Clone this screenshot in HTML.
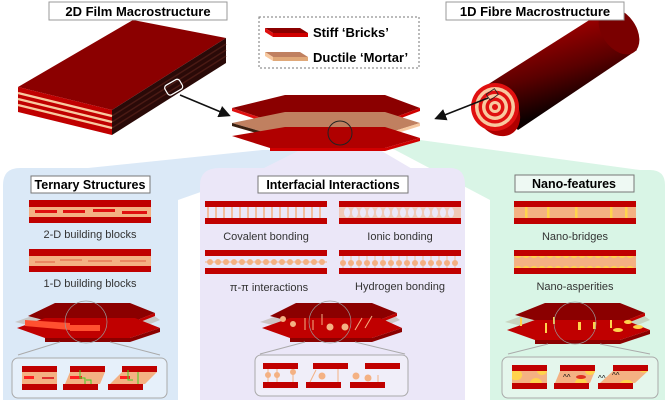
<!DOCTYPE html>
<html><head><meta charset="utf-8"><style>
html,body{margin:0;padding:0;background:#fff;}
svg{display:block;font-family:"Liberation Sans",Arial,sans-serif;}
</style></head><body>
<svg width="669" height="404" viewBox="0 0 669 404" xmlns="http://www.w3.org/2000/svg">
<defs>
<linearGradient id="cyl" x1="0.3" y1="0" x2="0.7" y2="1">
<stop offset="0" stop-color="#c00000"/><stop offset="0.5" stop-color="#5a0000"/><stop offset="0.8" stop-color="#0a0000"/><stop offset="1" stop-color="#300000"/>
</linearGradient>
<marker id="ah" markerWidth="8" markerHeight="8" refX="6" refY="4" orient="auto"><path d="M0,0 L8,4 L0,8 z" fill="#111"/></marker>
</defs>

<!-- beams -->
<polygon points="262,150 320,150 178,200 20,175" fill="#dbe9f7"/>
<polygon points="300,150 380,150 465,200 200,200" fill="#ebe7f8"/>
<polygon points="380,142 420,140 640,170 490,200" fill="#d9f5e6"/>

<!-- panels -->
<path d="M3,185 Q3,168 20,168 L178,168 L178,400 L3,400 Z" fill="#dbe9f7"/>
<path d="M200,185 Q200,168 220,168 L450,168 Q465,168 465,185 L465,400 L200,400 Z" fill="#ebe7f8"/>
<path d="M490,185 Q490,170 505,170 L650,170 Q665,170 665,185 L665,400 L490,400 Z" fill="#d9f5e6"/>

<!-- 2D film -->
<polygon points="18,87 133,20 226,38 112,110" fill="#8b0000"/>
<polygon points="112,110 226,38 226,63 112,135" fill="#2a0a08"/>
<g stroke="#4a1a14" stroke-width="1.5">
<line x1="112" y1="116" x2="226" y2="44"/><line x1="112" y1="122" x2="226" y2="50"/><line x1="112" y1="128" x2="226" y2="56"/></g>
<polygon points="18,87 112,110 112,135 18,112" fill="#c00000"/>
<g stroke="#f8c9a0" stroke-width="2.2">
<line x1="18" y1="93" x2="112" y2="116"/><line x1="18" y1="99" x2="112" y2="122"/><line x1="18" y1="105" x2="112" y2="128"/></g>
<rect x="165" y="82" width="17" height="11" rx="3" fill="none" stroke="#fff" stroke-width="1.2" transform="rotate(-30 173 87)"/>
<line x1="180" y1="95" x2="228" y2="115" stroke="#111" stroke-width="1.5" marker-end="url(#ah)"/>

<!-- center plates -->
<polygon points="232,108 285,95 385,95 420,108 385,121 270,121" fill="#8b0000"/>
<polygon points="232,108 270,121 270,124 232,111" fill="#e01010"/>
<polygon points="270,121 385,121 420,108 420,111 385,124 270,124" fill="#d00000"/>
<polygon points="232,123 285,112 385,112 420,123 385,134 270,134" fill="#c08060"/>
<polygon points="232,123 270,134 270,137 232,126" fill="#3a2010"/>
<polygon points="270,134 385,134 420,123 420,126 385,137 270,137" fill="#f6c8a0"/>
<polygon points="232,136 285,127 385,127 420,138 385,148 270,148" fill="#b00000"/>
<polygon points="270,148 385,148 420,138 420,141 385,151 270,151" fill="#d00000"/>
<circle cx="340" cy="133" r="12" fill="none" stroke="#222" stroke-width="1"/>

<!-- fibre -->
<polygon points="476,92 602,12 637,50 518,130" fill="url(#cyl)"/>
<ellipse cx="619" cy="31" rx="17" ry="26" transform="rotate(-35 619 31)" fill="#7a0000"/>
<ellipse cx="497" cy="111" rx="21" ry="27" transform="rotate(-35 497 111)" fill="#b00000"/>
<circle cx="495" cy="107" r="24" fill="#e01010"/>
<circle cx="495" cy="107" r="20" fill="#f8c9a0"/><circle cx="495" cy="107" r="16.5" fill="#e01010"/>
<circle cx="495" cy="107" r="13" fill="#f8c9a0"/><circle cx="495" cy="107" r="9.5" fill="#e01010"/>
<circle cx="495" cy="107" r="6" fill="#f8c9a0"/><circle cx="495" cy="107" r="3" fill="#e01010"/>
<rect x="487" y="91" width="10" height="7" fill="none" stroke="#222" stroke-width="0.8" transform="rotate(-35 492 94)"/>
<line x1="488" y1="98" x2="437" y2="118" stroke="#111" stroke-width="1.5" marker-end="url(#ah)"/>

<!-- labels -->
<rect x="49" y="2" width="178" height="18" fill="#fff" stroke="#999"/>
<text x="138" y="16" font-size="13" font-weight="bold" text-anchor="middle">2D Film Macrostructure</text>
<rect x="446" y="2" width="178" height="18" fill="#fff" stroke="#999"/>
<text x="535" y="16" font-size="13" font-weight="bold" text-anchor="middle">1D Fibre Macrostructure</text>
<rect x="259" y="17" width="160" height="51" fill="#fff" stroke="#777" stroke-dasharray="2,2"/>
<polygon points="265,28 300,28 308,33 273,33" fill="#8b0000"/><polygon points="265,28 273,33 273,37 265,32" fill="#e01010"/><polygon points="273,33 308,33 308,37 273,37" fill="#d00000"/>
<polygon points="265,52 300,52 308,57 273,57" fill="#c08060"/><polygon points="265,52 273,57 273,61 265,56" fill="#f8c9a0"/><polygon points="273,57 308,57 308,61 273,61" fill="#e0a878"/>
<text x="313" y="37" font-size="13" font-weight="bold">Stiff ‘Bricks’</text>
<text x="313" y="62" font-size="13" font-weight="bold">Ductile ‘Mortar’</text>

<!-- titles -->
<rect x="31" y="176" width="119" height="17" fill="#fff" stroke="#777"/>
<text x="90" y="189" font-size="12.5" font-weight="bold" text-anchor="middle">Ternary Structures</text>
<rect x="258" y="176" width="150" height="17" fill="#fff" stroke="#777"/>
<text x="333" y="189" font-size="12.5" font-weight="bold" text-anchor="middle">Interfacial Interactions</text>
<rect x="515" y="175" width="119" height="17" fill="#eef9f3" stroke="#777"/>
<text x="574" y="188" font-size="12.5" font-weight="bold" text-anchor="middle">Nano-features</text>

<!-- left bars -->
<g>
<rect x="29" y="200" width="122" height="7" fill="#c00000"/><rect x="29" y="207" width="122" height="10" fill="#f4b183"/><rect x="29" y="217" width="122" height="6" fill="#c00000"/>
<g fill="#e01010"><rect x="35" y="210" width="22" height="3"/><rect x="63" y="210" width="22" height="3"/><rect x="93" y="209" width="22" height="3"/><rect x="122" y="211" width="25" height="3"/></g>
<rect x="29" y="249" width="122" height="7" fill="#c00000"/><rect x="29" y="256" width="122" height="10" fill="#f4b183"/><rect x="29" y="266" width="122" height="6" fill="#c00000"/>
<g stroke="#e06040" stroke-width="1"><line x1="35" y1="262" x2="55" y2="262"/><line x1="60" y1="260" x2="82" y2="260"/><line x1="88" y1="261" x2="112" y2="261"/><line x1="120" y1="261" x2="146" y2="261"/></g>
</g>
<text x="90" y="238" font-size="11" fill="#333" text-anchor="middle">2-D building blocks</text>
<text x="90" y="287" font-size="11" fill="#333" text-anchor="middle">1-D building blocks</text>

<!-- purple bars -->
<g>
<rect x="205" y="201" width="122" height="6" fill="#c00000"/><rect x="205" y="218" width="122" height="6" fill="#c00000"/>
<g stroke="#f4b183" stroke-width="1.5">
<line x1="208" y1="207" x2="208" y2="218"/><line x1="216" y1="207" x2="216" y2="218"/><line x1="224" y1="207" x2="224" y2="218"/><line x1="232" y1="207" x2="232" y2="218"/><line x1="240" y1="207" x2="240" y2="218"/><line x1="248" y1="207" x2="248" y2="218"/><line x1="256" y1="207" x2="256" y2="218"/><line x1="264" y1="207" x2="264" y2="218"/><line x1="272" y1="207" x2="272" y2="218"/><line x1="280" y1="207" x2="280" y2="218"/><line x1="288" y1="207" x2="288" y2="218"/><line x1="296" y1="207" x2="296" y2="218"/><line x1="304" y1="207" x2="304" y2="218"/><line x1="312" y1="207" x2="312" y2="218"/><line x1="320" y1="207" x2="320" y2="218"/></g>
<rect x="339" y="201" width="122" height="6" fill="#c00000"/><rect x="339" y="218" width="122" height="6" fill="#c00000"/>
<rect x="339" y="207" width="122" height="11" fill="#f4b183" opacity="0.55"/>
<g fill="#ebe7f8"><ellipse cx="347" cy="212.5" rx="3" ry="5"/><ellipse cx="355" cy="212.5" rx="3" ry="5"/><ellipse cx="363" cy="212.5" rx="3" ry="5"/><ellipse cx="371" cy="212.5" rx="3" ry="5"/><ellipse cx="379" cy="212.5" rx="3" ry="5"/><ellipse cx="387" cy="212.5" rx="3" ry="5"/><ellipse cx="395" cy="212.5" rx="3" ry="5"/><ellipse cx="403" cy="212.5" rx="3" ry="5"/><ellipse cx="411" cy="212.5" rx="3" ry="5"/><ellipse cx="419" cy="212.5" rx="3" ry="5"/><ellipse cx="427" cy="212.5" rx="3" ry="5"/><ellipse cx="435" cy="212.5" rx="3" ry="5"/><ellipse cx="443" cy="212.5" rx="3" ry="5"/><ellipse cx="451" cy="212.5" rx="3" ry="5"/></g>
<rect x="205" y="250" width="122" height="6" fill="#c00000"/><rect x="205" y="268" width="122" height="6" fill="#c00000"/>
<line x1="205" y1="262" x2="327" y2="262" stroke="#f4b183" stroke-width="1"/>
<g fill="#f4b183"><circle cx="210" cy="262" r="3"/><circle cx="218" cy="262" r="3"/><circle cx="226" cy="262" r="3"/><circle cx="234" cy="262" r="3"/><circle cx="242" cy="262" r="3"/><circle cx="250" cy="262" r="3"/><circle cx="258" cy="262" r="3"/><circle cx="266" cy="262" r="3"/><circle cx="274" cy="262" r="3"/><circle cx="282" cy="262" r="3"/><circle cx="290" cy="262" r="3"/><circle cx="298" cy="262" r="3"/><circle cx="306" cy="262" r="3"/><circle cx="314" cy="262" r="3"/><circle cx="322" cy="262" r="3"/></g>
<rect x="339" y="250" width="122" height="6" fill="#c00000"/><rect x="339" y="268" width="122" height="6" fill="#c00000"/>
<g stroke="#f4b183" stroke-width="0.8"><line x1="343" y1="256" x2="343" y2="268"/><line x1="351" y1="256" x2="351" y2="268"/><line x1="359" y1="256" x2="359" y2="268"/><line x1="367" y1="256" x2="367" y2="268"/><line x1="375" y1="256" x2="375" y2="268"/><line x1="383" y1="256" x2="383" y2="268"/><line x1="391" y1="256" x2="391" y2="268"/><line x1="399" y1="256" x2="399" y2="268"/><line x1="407" y1="256" x2="407" y2="268"/><line x1="415" y1="256" x2="415" y2="268"/><line x1="423" y1="256" x2="423" y2="268"/><line x1="431" y1="256" x2="431" y2="268"/><line x1="439" y1="256" x2="439" y2="268"/><line x1="447" y1="256" x2="447" y2="268"/><line x1="455" y1="256" x2="455" y2="268"/></g>
<g fill="#f4b183"><circle cx="343" cy="263" r="3"/><circle cx="351" cy="263" r="3"/><circle cx="359" cy="263" r="3"/><circle cx="367" cy="263" r="3"/><circle cx="375" cy="263" r="3"/><circle cx="383" cy="263" r="3"/><circle cx="391" cy="263" r="3"/><circle cx="399" cy="263" r="3"/><circle cx="407" cy="263" r="3"/><circle cx="415" cy="263" r="3"/><circle cx="423" cy="263" r="3"/><circle cx="431" cy="263" r="3"/><circle cx="439" cy="263" r="3"/><circle cx="447" cy="263" r="3"/><circle cx="455" cy="263" r="3"/></g>
</g>
<text x="266" y="240" font-size="11" fill="#333" text-anchor="middle">Covalent bonding</text>
<text x="400" y="240" font-size="11" fill="#333" text-anchor="middle">Ionic bonding</text>
<text x="269" y="291" font-size="11" fill="#333" text-anchor="middle">π-π interactions</text>
<text x="400" y="290" font-size="11" fill="#333" text-anchor="middle">Hydrogen bonding</text>

<!-- green bars -->
<rect x="514" y="201" width="122" height="6" fill="#c00000"/><rect x="514" y="207" width="122" height="11" fill="#f4b183"/><rect x="514" y="218" width="122" height="6" fill="#c00000"/>
<g fill="#ffd34d"><rect x="525" y="207" width="2.5" height="11"/><rect x="547" y="207" width="2.5" height="11"/><rect x="575" y="207" width="2.5" height="11"/><rect x="610" y="207" width="2.5" height="11"/><rect x="625" y="207" width="2.5" height="11"/></g>
<rect x="514" y="250" width="122" height="6" fill="#c00000"/><rect x="514" y="256" width="122" height="12" fill="#f4b183"/><rect x="514" y="268" width="122" height="6" fill="#c00000"/>
<path d="M514,256 q4,4 8,0 q4,4 8,0 q4,4 8,0 q4,4 8,0 q4,4 8,0 q4,4 8,0 q4,4 8,0 q4,4 8,0 q4,4 8,0 q4,4 8,0 q4,4 8,0 q4,4 8,0 q4,4 8,0 q4,4 8,0 q4,4 8,0 z" fill="#ffd34d"/>
<path d="M514,268 q4,-4 8,0 q4,-4 8,0 q4,-4 8,0 q4,-4 8,0 q4,-4 8,0 q4,-4 8,0 q4,-4 8,0 q4,-4 8,0 q4,-4 8,0 q4,-4 8,0 q4,-4 8,0 q4,-4 8,0 q4,-4 8,0 q4,-4 8,0 q4,-4 8,0 z" fill="#ffd34d"/>
<text x="575" y="240" font-size="11" fill="#333" text-anchor="middle">Nano-bridges</text>
<text x="575" y="290" font-size="11" fill="#333" text-anchor="middle">Nano-asperities</text>

<!-- panel plates: left -->
<g>
<polygon points="15,322 40,313 150,313 160,320 140,328 40,328" fill="#c0b8b0" opacity="0.7"/>
<polygon points="28,316 55,303 130,303 155,313 130,323 55,323" fill="#8b0000"/>
<polygon points="55,323 130,323 155,313 155,316 130,326 55,326" fill="#c00000"/>
<polygon points="17,328 45,318 135,318 160,328 130,338 45,338" fill="#c00000"/>
<polygon points="45,338 130,338 160,328 160,332 130,342 45,342" fill="#8b0000"/>
<polygon points="25,320 70,323 70,330 25,326" fill="#ff5030"/>
<rect x="70" y="325" width="30" height="6" fill="#ff5030"/>
<circle cx="86" cy="322" r="21" fill="none" stroke="#999" stroke-width="0.7"/>
<line x1="60" y1="342" x2="18" y2="355" stroke="#aaa"/><line x1="110" y1="342" x2="160" y2="355" stroke="#aaa"/>
<rect x="12" y="358" width="155" height="40" rx="6" fill="#e6f0fa" stroke="#aaa"/>
<rect x="22" y="366" width="35" height="6" fill="#c00000"/><rect x="22" y="372" width="35" height="12" fill="#f4b183"/><rect x="22" y="384" width="35" height="6" fill="#c00000"/>
<rect x="24" y="376" width="10" height="3" fill="#ff2020"/><rect x="42" y="377" width="12" height="2" fill="#e03030"/>
<rect x="70" y="366" width="35" height="6" fill="#c00000"/><polygon points="70,372 105,372 100,384 65,384" fill="#f4b183"/><rect x="63" y="384" width="35" height="6" fill="#c00000"/>
<rect x="70" y="376" width="12" height="3" fill="#ff2020"/><path d="M80,370 v8 h5 v6 M86,380 h5 v4" stroke="#40d020" fill="none"/>
<rect x="122" y="366" width="35" height="6" fill="#c00000"/><polygon points="122,372 157,372 145,384 110,384" fill="#f4b183"/><rect x="108" y="384" width="35" height="6" fill="#c00000"/>
<rect x="120" y="376" width="10" height="3" fill="#ff2020"/><path d="M128,370 v10 h5 M138,372 v12" stroke="#40d020" fill="none"/>
</g>

<!-- purple plates -->
<g>
<polygon points="260,322 285,313 390,313 400,320 380,328 285,328" fill="#c0b8b0" opacity="0.7"/>
<polygon points="270,316 296,303 372,303 397,313 372,323 296,323" fill="#8b0000"/>
<polygon points="296,323 372,323 397,313 397,316 372,326 296,326" fill="#c00000"/>
<polygon points="262,328 290,318 380,318 402,328 372,338 290,338" fill="#c00000"/>
<polygon points="290,338 372,338 402,328 402,332 372,342 290,342" fill="#8b0000"/>
<g fill="#f4b183" stroke="#f4b183"><circle cx="283" cy="319" r="2.5"/><circle cx="293" cy="324" r="2.5"/><circle cx="330" cy="327" r="3"/><circle cx="345" cy="327" r="3"/><line x1="305" y1="318" x2="305" y2="330"/><line x1="313" y1="320" x2="313" y2="330"/><line x1="322" y1="314" x2="322" y2="325"/><line x1="355" y1="330" x2="362" y2="318"/><line x1="365" y1="328" x2="372" y2="316"/></g>
<circle cx="330" cy="322" r="21" fill="none" stroke="#999" stroke-width="0.7"/>
<line x1="305" y1="342" x2="260" y2="354" stroke="#aaa"/><line x1="355" y1="342" x2="405" y2="354" stroke="#aaa"/>
<rect x="255" y="355" width="153" height="41" rx="6" fill="#f0eef9" stroke="#aaa"/>
<rect x="263" y="363" width="35" height="6" fill="#c00000"/><rect x="263" y="382" width="35" height="6" fill="#c00000"/>
<g fill="#f4b183" stroke="#f4b183"><line x1="268" y1="369" x2="268" y2="382"/><circle cx="268" cy="375" r="2.5"/><line x1="277" y1="369" x2="277" y2="382"/><circle cx="277" cy="375" r="2.5"/><line x1="293" y1="369" x2="293" y2="382"/><circle cx="293" cy="372" r="2.5"/></g>
<rect x="313" y="363" width="35" height="6" fill="#c00000"/><rect x="306" y="382" width="35" height="6" fill="#c00000"/>
<g fill="#f4b183" stroke="#f4b183"><line x1="310" y1="382" x2="316" y2="370"/><circle cx="322" cy="376" r="3"/><line x1="338" y1="369" x2="338" y2="382"/></g>
<rect x="365" y="363" width="35" height="6" fill="#c00000"/><rect x="350" y="382" width="35" height="6" fill="#c00000"/>
<g fill="#f4b183" stroke="#f4b183"><circle cx="356" cy="376" r="3"/><circle cx="368" cy="378" r="3"/><line x1="378" y1="375" x2="378" y2="382"/></g>
</g>

<!-- green plates -->
<g>
<polygon points="505,322 530,313 640,313 650,320 630,328 530,328" fill="#c0c8b0" opacity="0.7"/>
<polygon points="515,315 545,303 620,303 645,313 620,323 545,323" fill="#8b0000"/>
<polygon points="545,323 620,323 645,313 645,316 620,326 545,326" fill="#c00000"/>
<polygon points="507,330 535,320 625,320 650,330 620,340 535,340" fill="#c00000"/>
<polygon points="535,340 620,340 650,330 650,334 620,344 535,344" fill="#8b0000"/>
<g fill="#ffd34d"><rect x="520" y="318" width="2" height="8"/><rect x="553" y="317" width="2" height="7"/><rect x="545" y="323" width="2" height="10"/><rect x="578" y="322" width="3" height="8"/><rect x="593" y="322" width="3" height="7"/><rect x="610" y="320" width="2" height="8"/><ellipse cx="618" cy="330" rx="5" ry="2"/><ellipse cx="638" cy="327" rx="5" ry="2"/><ellipse cx="628" cy="322" rx="4" ry="2"/></g>
<circle cx="575" cy="323" r="21" fill="none" stroke="#999" stroke-width="0.7"/>
<line x1="548" y1="344" x2="508" y2="354" stroke="#aaa"/><line x1="600" y1="344" x2="650" y2="354" stroke="#aaa"/>
<rect x="502" y="357" width="156" height="41" rx="6" fill="#e4f6ec" stroke="#aaa"/>
<rect x="512" y="365" width="35" height="6" fill="#c00000"/><rect x="512" y="371" width="35" height="12" fill="#f4b183"/><rect x="512" y="383" width="35" height="6" fill="#c00000"/>
<path d="M512,371 h8 a6,5 0 0 1 -8,8 z M530,383 a6,5 0 0 1 12,0 z M537,371 a5,4 0 0 0 10,0 z" fill="#ffd34d"/>
<rect x="560" y="365" width="35" height="6" fill="#c00000"/><polygon points="560,371 595,371 590,383 555,383" fill="#f4b183"/><rect x="554" y="383" width="35" height="6" fill="#c00000"/>
<path d="M585,371 a5,4 0 0 0 10,0 z M575,383 a6,5 0 0 1 12,0 z" fill="#ffd34d"/><ellipse cx="581" cy="377" rx="5" ry="2" fill="#e03020"/>
<text x="563" y="380" font-size="8" fill="#111">^^</text>
<rect x="613" y="365" width="35" height="6" fill="#c00000"/><polygon points="613,371 648,371 635,383 600,383" fill="#f4b183"/><rect x="598" y="383" width="35" height="6" fill="#c00000"/>
<path d="M640,371 a5,4 0 0 0 8,0 z M620,383 a7,5 0 0 1 13,0 z" fill="#ffd34d"/>
<text x="598" y="381" font-size="8" fill="#111">^^</text><text x="612" y="378" font-size="8" fill="#111">^^</text>
</g>
</svg>
</body></html>
